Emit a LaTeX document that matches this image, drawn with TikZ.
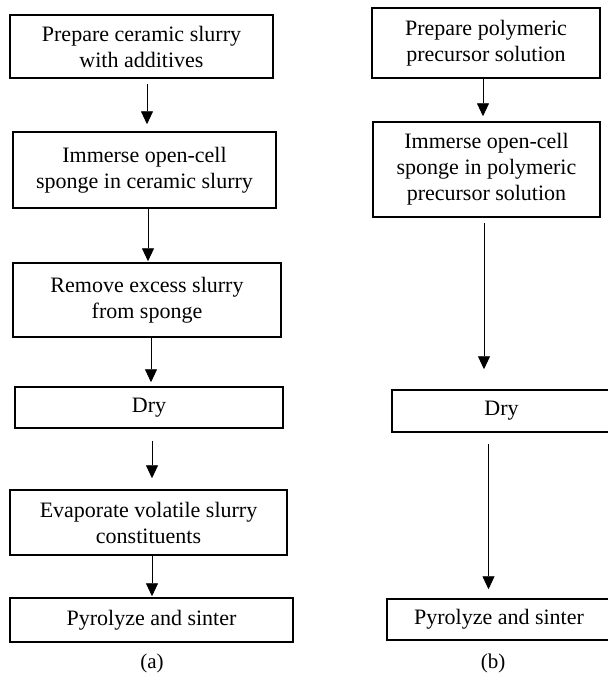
\documentclass[tikz,border=0pt]{standalone}
\usepackage{fontspec}
\setmainfont{Liberation Serif}
\usetikzlibrary{arrows.meta}
\tikzset{
  stepbox/.style={draw, line width=1.5pt, inner sep=0pt, align=center,
    font=\fontsize{22}{26}\selectfont},
  arr/.style={line width=0.9pt, -{Triangle[width=12pt,length=13pt]}},
  caption/.style={font=\fontsize{21}{25}\selectfont, anchor=base, inner sep=0pt}
}
\begin{document}
\begin{tikzpicture}[x=1pt,y=-1pt]
\useasboundingbox (0,0) rectangle (608,675);
% left column
\node[stepbox, minimum width=263pt, minimum height=63pt] (L1) at (141.5,46.5) {Prepare ceramic slurry\\with additives};
\node[stepbox, minimum width=263pt, minimum height=76pt] (L2) at (144.5,170) {Immerse open-cell\\sponge in ceramic slurry};
\node[stepbox, minimum width=268pt, minimum height=74pt] (L3) at (147,300) {Remove excess slurry\\from sponge};
\node[stepbox, minimum width=268pt, minimum height=41pt] (L4) at (149,407.5) {Dry};
\node[stepbox, minimum width=277pt, minimum height=65pt] (L5) at (148.5,522.5) {Evaporate volatile slurry\\constituents};
\node[stepbox, minimum width=283pt, minimum height=44pt] (L6) at (151.5,620) {Pyrolyze and sinter};
\node[caption] (ca) at (152,668) {(a)};
% right column
\node[stepbox, minimum width=228pt, minimum height=70pt] (R1) at (486,43) {Prepare polymeric\\precursor solution};
\node[stepbox, minimum width=227pt, minimum height=95pt] (R2) at (486.5,169.5) {Immerse open-cell\\sponge in polymeric\\precursor solution};
\node[stepbox, minimum width=219pt, minimum height=42pt] (R3) at (501.5,411) {Dry};
\node[stepbox, minimum width=224pt, minimum height=41pt] (R4) at (499,619.5) {Pyrolyze and sinter};
\node[caption] (cb) at (493,668) {(b)};
% left arrows
\draw[arr, shorten <=5pt, shorten >=7pt] ([xshift=5.5pt]L1.south) -- ([xshift=5.5pt]L1.south |- L2.north);
\draw[arr, shorten >=1pt] ([xshift=3.5pt]L2.south) -- ([xshift=3.5pt]L2.south |- L3.north);
\draw[arr, shorten >=4pt] ([xshift=4pt]L3.south) -- ([xshift=4pt]L3.south |- L4.north);
\draw[arr, shorten <=12pt, shorten >=11pt] ([xshift=3pt]L4.south) -- ([xshift=3pt]L4.south |- L5.north);
\draw[arr, shorten >=1pt] ([xshift=3.5pt]L5.south) -- ([xshift=3.5pt]L5.south |- L6.north);
% right arrows
\draw[arr, shorten >=5pt] ([xshift=-3pt]R1.south) -- ([xshift=-3pt]R1.south |- R2.north);
\draw[arr, shorten <=5pt, shorten >=20pt] ([xshift=-2.5pt]R2.south) -- ([xshift=-2.5pt]R2.south |- R3.north);
\draw[arr, shorten <=11pt, shorten >=9pt] ([xshift=-13pt]R3.south) -- ([xshift=-13pt]R3.south |- R4.north);
\end{tikzpicture}
\end{document}
